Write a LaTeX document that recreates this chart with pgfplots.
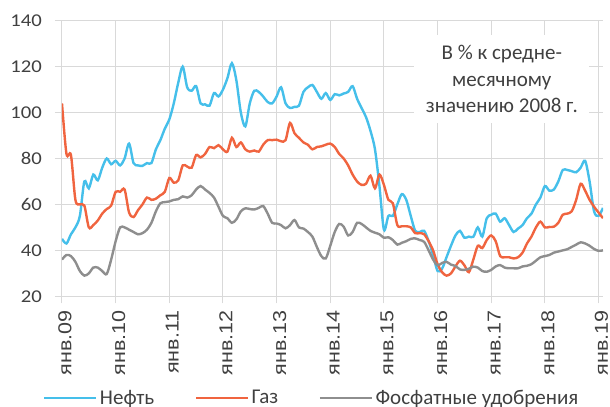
\documentclass[border=0pt]{standalone}
\usepackage{fontspec}
\setmainfont{Carlito}
\newfontfamily\yfont[FakeStretch=1.15]{Carlito}
\newfontfamily\xfont[FakeStretch=1.15]{Liberation Sans}
\usepackage{pgfplots}
\usepackage{pgfplotstable}
\pgfplotsset{compat=1.18}
\definecolor{oilc}{HTML}{45BFEA}
\definecolor{gasc}{HTML}{F0643F}
\definecolor{phosc}{HTML}{8E8E8E}
\definecolor{gridc}{HTML}{D9D9D9}
\definecolor{txtc}{HTML}{404040}
\pgfplotstableread{
m oil gas phos
0 45 104 36
1 43 82 38
2 47 81.5 37.5
3 50 62 35
4 55 60 31
5 70 59.5 29
6 67 50 30
7 73 51 32.5
8 70.5 53 32.5
9 76 56 31
10 80 58 29.7
11 77.5 59.5 36
12 79 65.5 44
13 77 65.5 50
14 80 66.5 50
15 86.5 56.5 49
16 78 54.5 48
17 77 57.5 47
18 76.8 60 47.5
19 78 63 49
20 78 62 52
21 84 62.5 57
22 88 64 60.5
23 93 65.5 61
24 97 71.5 61.3
25 104 69.5 62
26 113 70.5 62.3
27 120 77 63.5
28 111 76.5 63
29 109.5 76 64
30 111.5 81.5 66.5
31 104 80.5 68
32 103.6 82 66.5
33 103 85 65
34 108.5 84.5 63
35 107 85.8 59
36 110 84 55
37 115 83 54
38 121.5 89 52
39 114 85 53.5
40 100 87 57
41 94 84 58.3
42 104 83 58
43 109.5 83.5 57.8
44 109 83 58.5
45 107 86 59.3
46 104.6 88 56
47 104 88 52
48 107 88.2 51.7
49 111 87.5 51
50 104 88 49.6
51 102 95.5 51
52 102.5 91 53.2
53 103 89 50
54 109 87 49.5
55 111 86 48
56 112 84 46
57 109 85 41.5
58 106 85.3 37.5
59 108.5 86 36.5
60 105.5 86.5 42
61 108 85 48
62 107.5 82 51.5
63 108.3 80 50.3
64 109 77 46.5
65 111.5 73 48
66 106 70 52
67 102 68.5 51.5
68 98 69 50
69 92 72.5 48.5
70 84 67 47.7
71 68 73 47
72 49 68.5 45.5
73 55 62 45.7
74 55 60.5 44.5
75 60 51 42.5
76 64.5 50.5 43.3
77 62 50.5 44
78 55 50 45
79 48.5 47.5 45.2
80 48 47.5 44.5
81 48.5 47 43.7
82 44 44 40
83 38 40 36
84 31 34 33.5
85 32 30.5 34.5
86 37 29 35
87 42 30 33.8
88 46.5 33 33.2
89 48.5 35.5 31.7
90 45.5 33.5 31.5
91 46 30.5 32
92 45.9 36 32.9
93 50 42 32.5
94 46 41 31
95 54 44.5 30.7
96 55.5 46.5 31.5
97 56 44 33
98 52.5 37.5 33.6
99 54 37 32.5
100 51 37 32.2
101 48 36.5 32.2
102 49.5 37 32.2
103 51 39 33
104 54 43 33.3
105 56 46 34
106 60 50 35.5
107 63 52.5 37
108 68 50 37.5
109 66 50.2 38
110 66.5 50.3 39
111 70 52 39.5
112 75 55.5 40
113 75 56 40.5
114 74.5 57 41.5
115 74 62 42.5
116 76 69 43.5
117 79 66 43
118 70 62 42
119 57 59 40.6
120 55 56.5 39.8
121 58.5 54 40
}\data
\begin{document}
\begin{tikzpicture}
\begin{axis}[
  scale only axis, width=541bp, height=275.6bp,
  xmin=0, xmax=121, ymin=20, ymax=140,
  xtick={0,12,...,120},
  xticklabels={янв.09,янв.10,янв.11,янв.12,янв.13,янв.14,янв.15,янв.16,янв.17,янв.18,янв.19},
  ytick={20,40,...,140},
  grid=major,
  major grid style={draw=gridc, line width=1bp},
  axis line style={draw=none},
  tick align=outside, tick pos=left,
  major tick length=7bp,
  major tick style={draw=gridc, line width=1bp},
  /pgf/number format/assume math mode=true,
  yticklabel style={font=\yfont\fontsize{18bp}{18bp}\selectfont, text=txtc, inner sep=0pt, xshift=-13bp},
  xticklabel style={font=\xfont\fontsize{18.7bp}{18.7bp}\selectfont, text=txtc, xshift=3bp, yshift=-7bp, rotate=90, anchor=east, inner sep=0pt},
  legend style={at={(0.462,-0.369)}, anchor=center, draw=none, fill=none,
    legend columns=3, font=\fontsize{21bp}{21bp}\selectfont, text=txtc,
    /tikz/every even column/.append style={column sep=38bp},
    nodes={inner sep=2.5bp}},
  legend cell align=left,
  legend image code/.code={\draw[#1] (0bp,0bp) -- (52bp,0bp);},
  every axis plot/.append style={line width=2.4bp, smooth, mark=none},
]
\addplot[oilc] table[x=m,y=oil]{\data};
\addlegendentry{Нефть}
\addplot[gasc] table[x=m,y=gas]{\data};
\addlegendentry{Газ}
\addplot[phosc] table[x=m,y=phos]{\data};
\addlegendentry{Фосфатные удобрения}
\node[fill=white, inner sep=0pt, minimum width=175bp, minimum height=88bp, align=center, text=txtc, font=\fontsize{21bp}{26.3bp}\selectfont] at (rel axis cs:0.813,0.788) {В \% к средне-\\месячному\\значению 2008 г.};
\coordinate (sw) at (rel axis cs:0,0);
\end{axis}
\pgfresetboundingbox
\path[use as bounding box] ([shift={(-62bp,-110.7bp)}]sw) rectangle ([shift={(548bp,296.3bp)}]sw);
\end{tikzpicture}
\end{document}
